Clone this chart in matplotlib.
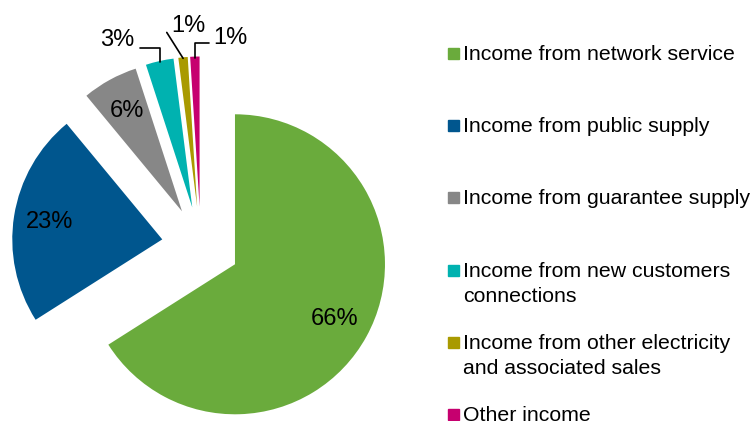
import matplotlib.pyplot as plt
from matplotlib.patches import Rectangle
import numpy as np

plt.rcParams['font.family'] = ['Liberation Sans', 'DejaVu Sans']

# Income structure
labels = ['Income from network service',
          'Income from public supply',
          'Income from guarantee supply',
          'Income from new customers\nconnections',
          'Income from other electricity\nand associated sales',
          'Other income']
shares = [66, 23, 6, 3, 1, 1]
colors = ['#6aab3c', '#00568e', '#878787', '#00b2b0', '#a99a00', '#c6006f']

W, H = 751, 421
fig = plt.figure(figsize=(W / 100, H / 100), dpi=100)
ax = fig.add_axes([0, 0, 1, 1])

# axis in pixel units (y up), explode is in the same units
cx, cy, rad, gap = 200.8, H - 245.5, 150, 39
wedges, texts, autotexts = ax.pie(shares, colors=colors, startangle=90, counterclock=False,
                                  explode=[gap] * len(shares), center=(cx, cy), radius=rad,
                                  autopct='%d%%', pctdistance=0.76,
                                  textprops=dict(fontsize=17, color='black'))
ax.set_xlim(0, W)
ax.set_ylim(0, H)
ax.set_aspect('equal')
ax.axis('off')

# small slices: labels outside with leader lines (label pos, connection, start on text)
small = {3: ((117, 40.5), 'angle,angleA=0,angleB=90', (1.18, 0.17)),
         4: ((188, 26.5), 'arc3', (-0.12, 0.23)),
         5: ((230, 38.5), 'angle,angleA=0,angleB=90', (-0.12, 0.3))}
for i, (pos, conn, rel) in small.items():
    w = wedges[i]
    tm = np.deg2rad((w.theta1 + w.theta2) / 2)
    ex, ey = w.center
    px, py = ex + (rad - 1) * np.cos(tm), ey + (rad - 1) * np.sin(tm)
    autotexts[i].set_visible(False)
    tx, ty = pos[0], H - pos[1]
    ax.annotate(f'{shares[i]}%', xy=(px, py), xytext=(tx, ty), fontsize=17,
                ha='center', va='center',
                arrowprops=dict(arrowstyle='-', color='black', lw=1.2, relpos=rel,
                                connectionstyle=conn, patchA=None, shrinkA=0, shrinkB=0))

# legend, marker aligned on first line
for i, (lab, col) in enumerate(zip(labels, colors)):
    base = 60 + 72.2 * i
    ax.add_patch(Rectangle((448, H - base + 1), 11, 11, color=col, clip_on=False))
    for k, line in enumerate(lab.split('\n')):
        ax.text(463, H - base - 25 * k, line, fontsize=15.3, va='baseline', ha='left',
                clip_on=False)

fig.savefig('out.png', dpi=100)
